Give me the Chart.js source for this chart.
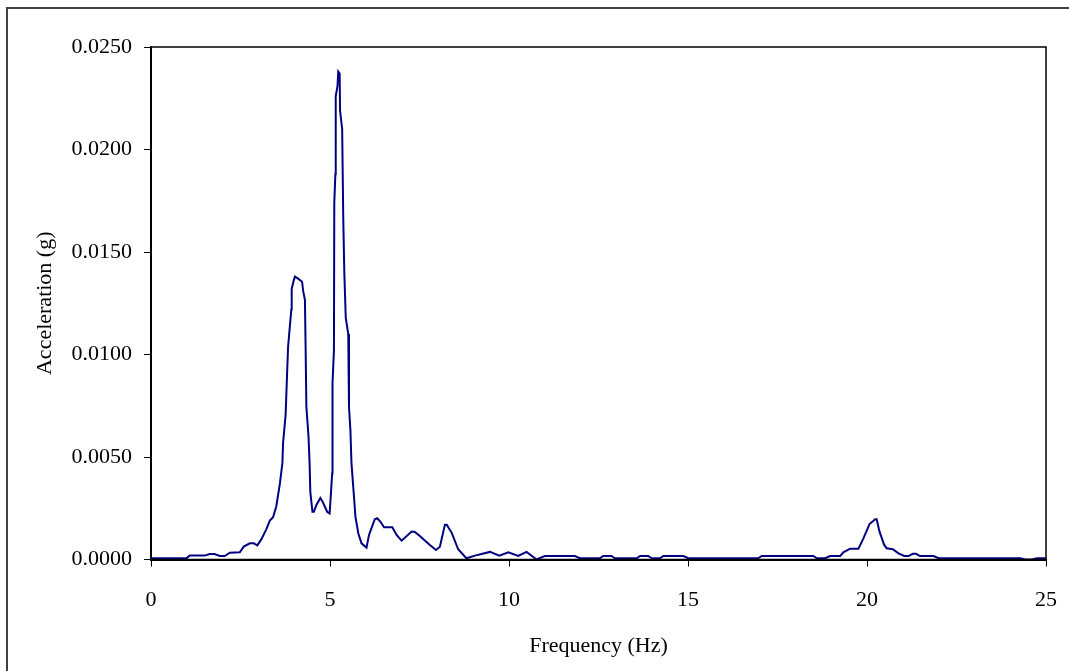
<!DOCTYPE html>
<html>
<head>
<meta charset="utf-8">
<script src="https://cdn.jsdelivr.net/npm/chart.js@4.4.1/dist/chart.umd.min.js"></script>
<style>
    html, body { margin: 0; padding: 0; background: #fff; overflow: hidden; }
    #wrap { position: relative; width: 1069px; height: 671px; }
    #frame {
        position: absolute; left: 6px; top: 7px; right: -10px; bottom: -10px;
        border-top: 2px solid #404040; border-left: 2px solid #404040;
        pointer-events: none;
    }
    canvas { position: absolute; left: 0; top: 0; }
</style>
</head>
<body>
<div id="wrap">
    <div id="frame"></div>
    <canvas id="spectrum" width="1069" height="671"></canvas>
</div>
<script>
// frequency (Hz) and acceleration (g)
const freqHz = [
    0, 0.99, 1.08, 1.5, 1.64, 1.78, 1.92, 2.06, 2.2, 2.48,
    2.59, 2.76, 2.87, 2.97, 3.08, 3.22, 3.32, 3.41, 3.5, 3.6,
    3.67, 3.69, 3.76, 3.8, 3.83, 3.92, 3.93, 3.99, 4.02, 4.11,
    4.22, 4.25, 4.3, 4.32, 4.34, 4.4, 4.43, 4.45, 4.51, 4.55,
    4.62, 4.73, 4.8, 4.92, 4.99, 5.02, 5.06, 5.07, 5.11, 5.12,
    5.15, 5.16, 5.21, 5.23, 5.27, 5.28, 5.34, 5.37, 5.4, 5.44,
    5.51, 5.53, 5.57, 5.6, 5.67, 5.71, 5.79, 5.88, 6.02, 6.09,
    6.19, 6.25, 6.32, 6.41, 6.51, 6.74, 6.86, 7.0, 7.28, 7.37,
    7.51, 7.79, 7.96, 8.07, 8.21, 8.26, 8.4, 8.58, 8.81, 9.05,
    9.23, 9.47, 9.73, 9.98, 10.26, 10.49, 10.77, 11.0, 11.84, 11.98,
    12.54, 12.63, 12.86, 12.96, 13.57, 13.66, 13.89, 13.99, 14.22, 14.31,
    14.87, 15.01, 16.96, 17.06, 18.5, 18.6, 18.83, 18.97, 19.25, 19.34,
    19.53, 19.76, 19.9, 20.07, 20.23, 20.27, 20.35, 20.48, 20.55, 20.72,
    20.88, 21.04, 21.16, 21.28, 21.37, 21.48, 21.86, 22.0, 24.28, 24.42,
    24.6, 24.75, 25
];
const accelG = [
    0.00006, 0.00006, 0.00019, 0.00019, 0.00027, 0.00027, 0.00017, 0.00017, 0.00033, 0.00035,
    0.00063, 0.00079, 0.00079, 0.00069, 0.00098, 0.00147, 0.0019, 0.00206, 0.0026, 0.0037,
    0.0047, 0.0057, 0.00705, 0.009, 0.0104, 0.0122, 0.0132, 0.01363, 0.0138, 0.0137,
    0.01355, 0.0131, 0.01266, 0.0102, 0.00745, 0.006, 0.0047, 0.0033, 0.00233, 0.00233,
    0.00266, 0.003, 0.0028, 0.00233, 0.00225, 0.00306, 0.0042, 0.0086, 0.0102, 0.0174,
    0.0188, 0.0226, 0.0231, 0.0238, 0.0237, 0.0219, 0.021, 0.0167, 0.014, 0.0118,
    0.011, 0.00745, 0.00632, 0.0047, 0.00306, 0.00209, 0.00128, 0.00079, 0.00058, 0.0012,
    0.00168, 0.00196, 0.00201, 0.00184, 0.00157, 0.00157, 0.0012, 0.00092, 0.00136, 0.00134,
    0.00115, 0.00071, 0.00046, 0.00062, 0.0017, 0.0017, 0.0013, 0.0005, 0.00006, 0.00019,
    0.00027, 0.00037, 0.00019, 0.00035, 0.00017, 0.00037, 0.0, 0.00017, 0.00017, 0.00006,
    0.00006, 0.00017, 0.00017, 0.00006, 0.00006, 0.00017, 0.00017, 0.00006, 0.00006, 0.00017,
    0.00017, 0.00006, 0.00006, 0.00017, 0.00017, 0.00006, 0.00006, 0.00017, 0.00017, 0.00035,
    0.00053, 0.00053, 0.00103, 0.00173, 0.00196, 0.00196, 0.00136, 0.00071, 0.00055, 0.0005,
    0.0003, 0.00017, 0.00017, 0.00028, 0.00028, 0.00017, 0.00017, 0.00006, 0.00006, 0.0,
    0.0, 0.00006, 0.00006
];
const xTicks = [0, 5, 10, 15, 20, 25];
const yTicks = [0, 0.005, 0.01, 0.015, 0.02, 0.025];

const serif = '"Liberation Serif", "Times New Roman", serif';

// black box round the plot area
const plotFrame = {
    id: 'plotFrame',
    afterDatasetsDraw(chart) {
        const a = chart.chartArea;
        const ctx = chart.ctx;
        ctx.save();
        ctx.strokeStyle = '#000';
        ctx.lineWidth = 1.5;
        ctx.strokeRect(a.left, a.top, a.right - a.left, a.bottom - a.top);
        ctx.restore();
    }
};

new Chart(document.getElementById('spectrum'), {
    type: 'line',
    data: {
        datasets: [{
            data: freqHz.map((f, i) => ({ x: f, y: accelG[i] })),
            borderColor: '#000080',
            borderWidth: 2,
            pointRadius: 0,
            tension: 0,
            fill: false
        }]
    },
    options: {
        responsive: false,
        animation: false,
        layout: { padding: { left: 0, top: 47, right: 23, bottom: 0 } },
        plugins: { legend: { display: false }, tooltip: { enabled: false } },
        scales: {
            x: {
                type: 'linear',
                min: 0,
                max: 25,
                afterBuildTicks: s => { s.ticks = xTicks.map(v => ({ value: v })); },
                afterFit: s => { s.height = 111.5; s.paddingLeft = 0; s.paddingRight = 0; },
                grid: { drawOnChartArea: false, drawTicks: true, tickLength: 7, color: '#000' },
                border: { display: true, color: '#000', width: 2 },
                ticks: { color: '#000', padding: 21, maxRotation: 0, font: { family: serif, size: 22 } },
                title: {
                    display: true, text: 'Frequency (Hz)', color: '#000',
                    padding: { top: 0, bottom: 12 }, font: { family: serif, size: 22 }
                }
            },
            y: {
                min: 0,
                max: 0.025,
                afterBuildTicks: s => { s.ticks = yTicks.map(v => ({ value: v })); },
                afterFit: s => { s.width = 151; },
                grid: { drawOnChartArea: false, drawTicks: true, tickLength: 7, color: '#000' },
                border: { display: true, color: '#000', width: 2 },
                ticks: {
                    color: '#000', padding: 12, font: { family: serif, size: 22 },
                    callback: v => v.toFixed(4)
                },
                title: {
                    display: true, text: 'Acceleration (g)', color: '#000',
                    padding: { top: 32, bottom: 0 }, font: { family: serif, size: 22 }
                }
            }
        }
    },
    plugins: [plotFrame]
});
</script>
</body>
</html>
